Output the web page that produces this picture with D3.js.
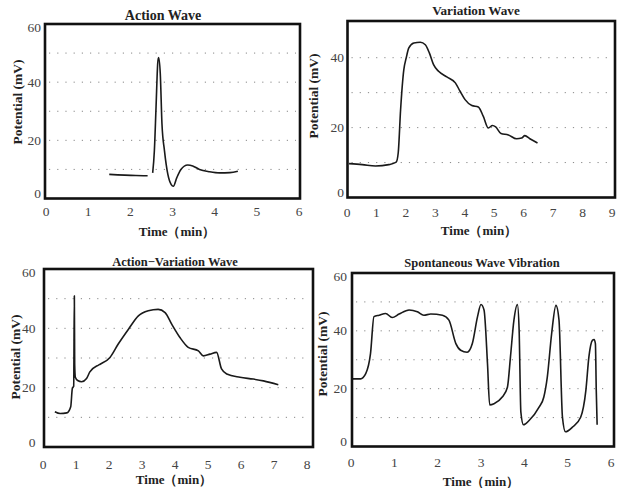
<!DOCTYPE html>
<html><head><meta charset="utf-8">
<script src="https://cdn.jsdelivr.net/npm/d3@7"></script>
<style>
html,body{margin:0;padding:0;background:#fff;}
svg{display:block;}
</style></head>
<body>
<svg id="c" width="618" height="488"></svg>
<script>
// ---------- DATA ----------
const titles = ["Action Wave", "Variation Wave", "Action\u2212Variation Wave", "Spontaneous Wave Vibration"];
const xLabel = "Time\uFF08min\uFF09";
const yLabel = "Potential (mV)";

const xTicks1 = [0,1,2,3,4,5,6];
const xTicks2 = [0,1,2,3,4,5,6,7,8,9];
const xTicks3 = [0,1,2,3,4,5,6,7,8];
const xTicks4 = [0,1,2,3,4,5,6];
const yTicks1 = [0,20,40,60];
const yTicks2 = [0,20,40];
const yTicks3 = [0,20,40,60];
const yTicks4 = [0,20,40,60];
const grid1 = [10,20,30,40,50];
const grid2 = [10,20,30,40];
const grid3 = [10,20,30,40,50];
const grid4 = [10,20,30,40,50];

// Action wave (null = gap in trace)
const actionT = [1.5,2.13,2.41,2.47,2.53,2.57,2.61,2.65,2.67,2.71,2.75,2.81,2.89,2.97,3.02,3.1,3.2,3.36,3.48,3.64,3.88,4.12,4.36,4.55];
const actionV = [8.3,7.9,7.8,null,8.8,16.4,31.5,46.6,48.5,43,25.7,16.4,8.3,4.8,4.2,7.1,10,11.5,11.2,10,9.2,8.8,8.9,9.4];

// Variation wave
const variationT = [0.07,0.52,0.97,1.42,1.67,1.74,1.82,1.93,2.01,2.1,2.27,2.49,2.66,2.8,2.94,3.11,3.39,3.68,3.84,4.01,4.24,4.46,4.63,4.8,4.94,5.05,5.23,5.48,5.76,5.93,6.04,6.21,6.47];
const variationV = [9.7,9.4,9.0,9.4,10.1,12.8,25.1,36.6,39.9,42.8,44.2,44.4,43.7,41.3,38,36.1,34.5,32.8,30.4,28,26.3,25.9,23.2,19.9,20.6,20.2,18.3,17.9,16.8,17,17.7,16.8,15.6];

// Action-variation wave
const actVarT = [0.36,0.52,0.72,0.84,0.89,0.93,0.95,0.96,0.98,1.05,1.17,1.32,1.42,1.68,1.73,2.03,2.28,2.59,2.89,3.19,3.49,3.7,3.9,4.15,4.4,4.71,4.86,5.06,5.26,5.41,5.57,5.97,6.37,6.68,7.13];
const actVarV = [11.9,11.3,11.5,13.6,19.8,20.5,51,28,23.5,22.4,22,23.1,25.3,27.6,27.9,30.2,34.7,39.7,44.2,45.9,46.4,45.3,41.4,36.9,33.6,32.4,30.7,31.3,31.9,26.3,24.6,23.5,22.9,22.3,21];

// Spontaneous wave vibration
const spontT = [0.0,0.22,0.34,0.45,0.53,0.65,0.8,0.95,1.11,1.34,1.53,1.68,1.84,2.11,2.26,2.42,2.53,2.68,2.8,2.92,3.0,3.07,3.15,3.2,3.3,3.49,3.61,3.68,3.76,3.84,3.88,3.92,3.98,4.11,4.34,4.45,4.53,4.63,4.73,4.8,4.88,4.95,5.11,5.3,5.42,5.49,5.57,5.61,5.64,5.66,5.68];
const spontV = [23.4,23.4,25.2,32.1,44.9,45.4,46,44.6,45.8,47.2,46.6,45.4,45.8,45.4,43.7,35.6,33.3,32.6,35.6,44.9,49.1,47.2,28.6,14.4,14.8,17.1,20.5,31,43.7,49.1,40.2,11.9,7.5,9,13.6,17.1,24,39,48.8,43.7,10.1,5.1,6.7,10.1,19.4,31,36.7,37,35.6,19.4,7.5];

// ---------- LAYOUT ----------
const panels = [
  {title:titles[0], t:actionT, v:actionV, xd:[0,6], yd:[0,60], xt:xTicks1, yt:yTicks1, grid:grid1,
   box:{x0:45,x1:300,y0:24,y1:198.5}, xr:[46,299], titleSize:14,
   titleX:163, titleY:15, xLabY:211, xTitleX:177, xTitleY:231, yLabR:41, yTitleX:17, yTitleY:102},
  {title:titles[1], t:variationT, v:variationV, xd:[0,9], yd:[0,50.5], xt:xTicks2, yt:yTicks2, grid:grid2,
   box:{x0:347.5,x1:615,y0:21,y1:197.5}, xr:[347,612], titleSize:13.2,
   titleX:476, titleY:10, xLabY:212, xTitleX:479, xTitleY:230, yLabR:344, yTitleX:313, yTitleY:96},
  {title:titles[2], t:actVarT, v:actVarV, xd:[0,8], yd:[0,60], xt:xTicks3, yt:yTicks3, grid:grid3,
   box:{x0:44,x1:313,y0:269,y1:447}, xr:[43,307], titleSize:12.5,
   titleX:175, titleY:262, xLabY:464, xTitleX:174, xTitleY:479, yLabR:35.5, yTitleX:15.5, yTitleY:357},
  {title:titles[3], t:spontT, v:spontV, xd:[0,6], yd:[0,60], xt:xTicks4, yt:yTicks4, grid:grid4,
   box:{x0:352,x1:614,y0:273,y1:446.5}, xr:[351,611], titleSize:12.5,
   titleX:482, titleY:263, xLabY:462, xTitleX:481, xTitleY:481, yLabR:347, yTitleX:322, yTitleY:354}
];

const svg = d3.select("#c");
const serif = "'Liberation Serif','DejaVu Serif',serif";

panels.forEach(p => {
  const g = svg.append("g");
  const b = p.box;
  const x = d3.scaleLinear().domain(p.xd).range(p.xr);
  const y = d3.scaleLinear().domain(p.yd).range([b.y1, b.y0]);

  // dotted grid rows
  g.selectAll("line.grid").data(p.grid).join("line")
    .attr("x1", b.x0 + 4).attr("x2", b.x1 - 4)
    .attr("y1", d => y(d)).attr("y2", d => y(d))
    .attr("stroke", "#888").attr("stroke-width", 1)
    .attr("stroke-dasharray", "1.2,7");

  // trace
  const pts = p.t.map((t, i) => [t, p.v[i]]);
  const line = d3.line().defined(d => d[1] !== null)
    .x(d => x(d[0])).y(d => y(d[1])).curve(d3.curveMonotoneX);
  g.append("path").datum(pts).attr("d", line)
    .attr("fill", "none").attr("stroke", "#1a1a1a").attr("stroke-width", 1.6)
    .attr("stroke-linejoin", "round");

  // frame
  g.append("rect").attr("x", b.x0).attr("y", b.y0)
    .attr("width", b.x1 - b.x0).attr("height", b.y1 - b.y0)
    .attr("fill", "none").attr("stroke", "#111").attr("stroke-width", 2.6);

  // x tick labels
  g.selectAll("text.xt").data(p.xt).join("text")
    .attr("x", d => x(d)).attr("y", p.xLabY)
    .attr("text-anchor", "middle").attr("dominant-baseline", "central")
    .attr("font-family", serif).attr("font-size", 13.5).attr("fill", "#444")
    .text(d => d);

  // y tick labels
  g.selectAll("text.yt").data(p.yt).join("text")
    .attr("x", p.yLabR)
    .attr("y", d => Math.max(b.y0 + 3, Math.min(b.y1 - 5, y(d))))
    .attr("text-anchor", "end").attr("dominant-baseline", "central")
    .attr("font-family", serif).attr("font-size", 13.5).attr("fill", "#444")
    .text(d => d);

  // title
  g.append("text").attr("x", p.titleX).attr("y", p.titleY)
    .attr("text-anchor", "middle").attr("dominant-baseline", "central")
    .attr("font-family", serif).attr("font-weight", "bold").attr("font-size", p.titleSize)
    .attr("fill", "#222").text(p.title);

  // x title
  g.append("text").attr("x", p.xTitleX).attr("y", p.xTitleY)
    .attr("text-anchor", "middle").attr("dominant-baseline", "central")
    .attr("font-family", serif).attr("font-weight", "bold").attr("font-size", 13)
    .attr("fill", "#222").text(xLabel);

  // y title
  g.append("text")
    .attr("transform", `translate(${p.yTitleX},${p.yTitleY}) rotate(-90)`)
    .attr("text-anchor", "middle").attr("dominant-baseline", "central")
    .attr("font-family", serif).attr("font-weight", "bold").attr("font-size", 13.5)
    .attr("fill", "#222").text(yLabel);
});
</script>
</body></html>
